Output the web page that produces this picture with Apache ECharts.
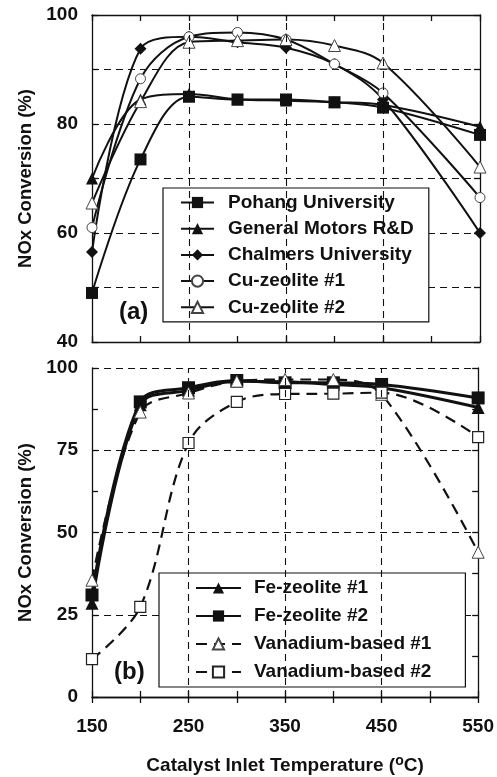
<!DOCTYPE html>
<html>
<head>
<meta charset="utf-8">
<script src="https://cdn.jsdelivr.net/npm/echarts@6/dist/echarts.min.js"></script>
<style>
html,body{margin:0;padding:0;background:#fff;}
#chart{width:497px;height:777px;}
</style>
</head>
<body>
<div id="chart"></div>
<script>
// ---- data ----
const temps = [150, 200, 250, 300, 350, 400, 450, 550];
const xLabelTicks = [150, 250, 350, 450, 550];
const xGridLines = [250, 350, 450];

// panel (a)
const pohang = [49, 73.5, 85, 84.5, 84.5, 84, 83, 78];
const generalMotors = [70, 84.5, 85.5, 84.5, 84.3, 84, 83.5, 79.5];
const chalmers = [56.5, 93.8, 96, 95, 94, 91, 84.5, 60];
const cuZeolite1 = [61, 88.3, 96, 96.8, 95.5, 91, 85.7, 66.5];
const cuZeolite2 = [65.5, 84.1, 95, 95.3, 95.5, 94.4, 91.2, 72.1];

// panel (b)
const feZeolite1 = [28.5, 88.8, 93.2, 96, 95.8, 95, 94, 88];
const feZeolite2 = [31, 89.7, 94, 96.2, 95.5, 95.5, 95, 90.9];
const vanadium1 = [35.5, 86.6, 92.4, 96, 96.5, 96.5, 92, 44];
const vanadium2 = [11.5, 27.4, 77.2, 89.7, 92.1, 92.2, 92.5, 79];

const pair = arr => arr.map((v, i) => [temps[i], v]);

const INK = '#111';
const FONT = 'Liberation Sans, Arial, sans-serif';

function bottomX(gridIndex, showLabels, name) {
  return {
    type: 'value', gridIndex, position: 'bottom', min: 150, max: 550, interval: 50,
    axisLine: { show: true, lineStyle: { color: INK, width: 1.3 } },
    axisTick: { show: true, inside: true, length: 6, lineStyle: { color: INK, width: 1.3 } },
    axisLabel: {
      show: showLabels, margin: 20, color: INK, fontFamily: FONT, fontWeight: 'bold', fontSize: 19,
      formatter: v => (xLabelTicks.indexOf(v) >= 0 ? String(v) : '')
    },
    splitLine: { show: false },
    name: name || '', nameLocation: 'middle', nameGap: 57,
    nameTextStyle: {
      color: INK, fontFamily: FONT, fontWeight: 'bold', fontSize: 19,
      rich: { sup: { fontSize: 14, fontWeight: 'bold', fontFamily: FONT, color: INK, verticalAlign: 'top', padding: [0, 0, 10, 0] } }
    }
  };
}
function topX(gridIndex) {
  return {
    type: 'value', gridIndex, position: 'top', min: 150, max: 550, interval: 50,
    axisLine: { show: true, lineStyle: { color: INK, width: 1.3 } },
    axisTick: { show: true, inside: true, length: 6, lineStyle: { color: INK, width: 1.3 } },
    axisLabel: { show: false }, splitLine: { show: false }
  };
}

const dashed = { color: INK, width: 1.1, type: [7, 5] };
const yName = { color: INK, fontFamily: FONT, fontWeight: 'bold', fontSize: 18.5 };

const option = {
  animation: false,
  backgroundColor: '#fff',
  grid: [
    { left: 92, top: 15, width: 388, height: 327 },
    { left: 92, top: 368, width: 390, height: 329 }
  ],
  xAxis: [
    bottomX(0, false),
    topX(0),
    bottomX(1, true, 'Catalyst Inlet Temperature ({sup|o}C)'),
    topX(1)
  ],
  yAxis: [
    {
      type: 'value', gridIndex: 0, position: 'left', min: 40, max: 100, interval: 10,
      axisLine: { show: true, lineStyle: { color: INK, width: 1.3 } },
      axisTick: { show: true, inside: true, length: 6, lineStyle: { color: INK, width: 1.3 } },
      axisLabel: { margin: 14, color: INK, fontFamily: FONT, fontWeight: 'bold', fontSize: 19,
        formatter: v => (v % 20 === 0 ? String(v) : '') },
      splitLine: { show: true, lineStyle: dashed },
      name: 'NOx Conversion (%)', nameLocation: 'middle', nameGap: 56, nameTextStyle: yName
    },
    {
      type: 'value', gridIndex: 0, position: 'right', min: 40, max: 100, interval: 10,
      axisLine: { show: true, lineStyle: { color: INK, width: 1.3 } },
      axisTick: { show: true, inside: true, length: 6, lineStyle: { color: INK, width: 1.3 } },
      axisLabel: { show: false }, splitLine: { show: false }
    },
    {
      type: 'value', gridIndex: 1, position: 'left', min: 0, max: 100, interval: 25,
      axisLine: { show: true, lineStyle: { color: INK, width: 1.3 } },
      axisTick: { show: true, inside: true, length: 6, lineStyle: { color: INK, width: 1.3 } },
      minorTick: { show: true, splitNumber: 2, length: 6, lineStyle: { color: INK, width: 1.3 } },
      axisLabel: { margin: 14, color: INK, fontFamily: FONT, fontWeight: 'bold', fontSize: 19 },
      splitLine: { show: true, lineStyle: dashed },
      name: 'NOx Conversion (%)', nameLocation: 'middle', nameGap: 56, nameTextStyle: yName
    },
    {
      type: 'value', gridIndex: 1, position: 'right', min: 0, max: 100, interval: 25,
      axisLine: { show: true, lineStyle: { color: INK, width: 1.3 } },
      axisTick: { show: true, inside: true, length: 6, lineStyle: { color: INK, width: 1.3 } },
      minorTick: { show: true, splitNumber: 2, length: 6, lineStyle: { color: INK, width: 1.3 } },
      axisLabel: { show: false }, splitLine: { show: false }
    }
  ],
  legend: [
    {
      orient: 'vertical', left: 163, top: 188,
      data: ['Pohang University', 'General Motors R&D', 'Chalmers University', 'Cu-zeolite #1', 'Cu-zeolite #2'],
      backgroundColor: '#fff', borderColor: INK, borderWidth: 1.2,
      padding: [5, 15, 5, 17], itemGap: 7.2, itemWidth: 33, itemHeight: 14,
      textStyle: { color: INK, fontFamily: FONT, fontWeight: 'bold', fontSize: 19, lineHeight: 19, padding: [0, 0, 0, 9] }
    },
    {
      orient: 'vertical', left: 159, top: 573,
      data: ['Fe-zeolite #1', 'Fe-zeolite #2', 'Vanadium-based #1', 'Vanadium-based #2'],
      backgroundColor: '#fff', borderColor: INK, borderWidth: 1.2,
      padding: [5.5, 34, 5.5, 36], itemGap: 9, itemWidth: 45, itemHeight: 14,
      textStyle: { color: INK, fontFamily: FONT, fontWeight: 'bold', fontSize: 19, lineHeight: 19, padding: [0, 0, 0, 8] }
    }
  ],
  graphic: [
    { type: 'text', left: 119, top: 300, style: { text: '(a)', font: 'bold 24px ' + FONT, fill: INK } },
    { type: 'text', left: 114, top: 660, style: { text: '(b)', font: 'bold 24px ' + FONT, fill: INK } }
  ],
  series: [
    // panel (a)
    { name: 'Pohang University', type: 'line', xAxisIndex: 0, yAxisIndex: 0, data: pair(pohang), smooth: 0.35, clip: false,
      symbol: 'rect', symbolSize: 12, itemStyle: { color: INK }, lineStyle: { color: INK, width: 2 }, z: 3,
      markLine: { silent: true, symbol: 'none', label: { show: false }, lineStyle: dashed,
        data: xGridLines.map(x => ({ xAxis: x })) } },
    { name: 'General Motors R&D', type: 'line', xAxisIndex: 0, yAxisIndex: 0, data: pair(generalMotors), smooth: 0.35, clip: false,
      symbol: 'triangle', symbolSize: 12, itemStyle: { color: INK }, lineStyle: { color: INK, width: 2 }, z: 3 },
    { name: 'Chalmers University', type: 'line', xAxisIndex: 0, yAxisIndex: 0, data: pair(chalmers), smooth: 0.35, clip: false,
      symbol: 'diamond', symbolSize: 12, itemStyle: { color: INK }, lineStyle: { color: INK, width: 2 }, z: 3 },
    { name: 'Cu-zeolite #1', type: 'line', xAxisIndex: 0, yAxisIndex: 0, data: pair(cuZeolite1), smooth: 0.35, clip: false,
      symbol: 'circle', symbolSize: 10, itemStyle: { color: '#fff', borderColor: '#444', borderWidth: 1 },
      lineStyle: { color: INK, width: 2 }, z: 3 },
    { name: 'Cu-zeolite #2', type: 'line', xAxisIndex: 0, yAxisIndex: 0, data: pair(cuZeolite2), smooth: 0.35, clip: false,
      symbol: 'triangle', symbolSize: 12, itemStyle: { color: '#fff', borderColor: '#444', borderWidth: 1 },
      lineStyle: { color: INK, width: 2 }, z: 3 },
    // panel (b)
    { name: 'Fe-zeolite #1', type: 'line', xAxisIndex: 2, yAxisIndex: 2, data: pair(feZeolite1), smooth: 0.35, clip: false,
      symbol: 'triangle', symbolSize: 13, itemStyle: { color: INK }, lineStyle: { color: INK, width: 3 }, z: 3,
      markLine: { silent: true, symbol: 'none', label: { show: false }, lineStyle: dashed,
        data: xGridLines.map(x => ({ xAxis: x })) } },
    { name: 'Fe-zeolite #2', type: 'line', xAxisIndex: 2, yAxisIndex: 2, data: pair(feZeolite2), smooth: 0.35, clip: false,
      symbol: 'rect', symbolSize: 13, itemStyle: { color: INK }, lineStyle: { color: INK, width: 3 }, z: 3 },
    { name: 'Vanadium-based #1', type: 'line', xAxisIndex: 2, yAxisIndex: 2, data: pair(vanadium1), smooth: 0.35, clip: false,
      symbol: 'triangle', symbolSize: 12, itemStyle: { color: '#fff', borderColor: '#444', borderWidth: 1 },
      lineStyle: { color: INK, width: 2.2, type: [11, 7] }, z: 3 },
    { name: 'Vanadium-based #2', type: 'line', xAxisIndex: 2, yAxisIndex: 2, data: pair(vanadium2), smooth: 0.35, clip: false,
      symbol: 'rect', symbolSize: 11, itemStyle: { color: '#fff', borderColor: '#222', borderWidth: 1.2 },
      lineStyle: { color: INK, width: 2.2, type: [11, 7] }, z: 3 }
  ]
};

const chart = echarts.init(document.getElementById('chart'), null, { renderer: 'canvas' });
chart.setOption(option);
</script>
</body>
</html>
